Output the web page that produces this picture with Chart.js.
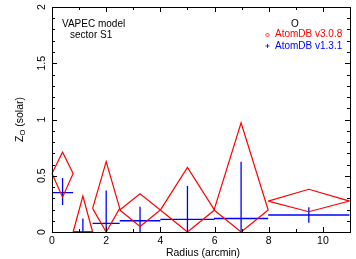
<!DOCTYPE html>
<html><head><meta charset="utf-8">
<script src="https://cdn.jsdelivr.net/npm/chart.js@4/dist/chart.umd.min.js"></script>
<style>html,body{margin:0;padding:0;background:#fff}canvas{display:block}</style>
</head><body>
<canvas id="c" width="356" height="259"></canvas>
<script>
// Bins (arcmin)
const binCenters = [0.39, 1.14, 2.0, 3.25, 5.0, 6.98, 9.48];
const binHalfWidths = [0.39, 0.36, 0.5, 0.75, 1.0, 1.0, 1.5];
// AtomDB v3.0.8 (red diamonds)
const redY  = [0.52, 0.0, 0.21, 0.195, 0.195, 0.195, 0.275];
const redHi = [0.71, 0.32, 0.625, 0.34, 0.575, 0.97, 0.38];
const redLo = [0.31, 0.0, 0.0, 0.05, 0.0, 0.0, 0.18];
// AtomDB v1.3.1 (blue crosses)
const blueY  = [0.35, 0.0, 0.077, 0.10, 0.113, 0.12, 0.151];
const blueHi = [0.48, 0.12, 0.37, 0.225, 0.41, 0.625, 0.22];
const blueLo = [0.24, 0.0, 0.0, 0.0, 0.0, 0.0, 0.083];
// Ticks
const xMajorTicks = [0, 2, 4, 6, 8, 10];
const xMinorTicks = [1, 3, 5, 7, 9, 11];
const yMajorTicks = [0, 0.5, 1, 1.5, 2];
const yTickLabels = ['0', '0.5', '1', '1.5', '2'];
const yMinorTicks = [0.1,0.2,0.3,0.4,0.6,0.7,0.8,0.9,1.1,1.2,1.3,1.4,1.6,1.7,1.8,1.9];

const FONT = '"Liberation Sans", Arial, sans-serif';

function diamond(i){
  const x = binCenters[i], w = binHalfWidths[i];
  return [{x:x-w,y:redY[i]},{x:x,y:redHi[i]},{x:x+w,y:redY[i]},{x:x,y:redLo[i]},{x:x-w,y:redY[i]}];
}
const datasets = binCenters.map((_, i) => ({
  type:'line', data: diamond(i), borderColor:'#ff0000', borderWidth:1.2,
  pointRadius:0, fill:false, tension:0, clip:6
}));
const crossData = [];
binCenters.forEach((x, i) => {
  const w = binHalfWidths[i];
  crossData.push({x:x-w,y:blueY[i]},{x:x+w,y:blueY[i]},{x:x,y:null});
  crossData.push({x:x,y:blueLo[i]},{x:x,y:blueHi[i]},{x:x,y:null});
});
datasets.push({type:'line', data: crossData, borderColor:'#0000ff', borderWidth:1.3,
  pointRadius:0, fill:false, spanGaps:false, clip:6});

const axesPlugin = {
  id:'axes',
  afterDraw(chart){
    const ctx = chart.ctx, a = chart.chartArea, xs = chart.scales.x, ys = chart.scales.y;
    ctx.save();
    ctx.strokeStyle = '#000'; ctx.lineWidth = 1;
    ctx.strokeRect(Math.round(a.left)+0.5, Math.round(a.top)+0.5, Math.round(a.right-a.left), Math.round(a.bottom-a.top));
    ctx.beginPath();
    const tx = (v, len) => { const p = Math.round(xs.getPixelForValue(v))+0.5;
      ctx.moveTo(p, a.bottom); ctx.lineTo(p, a.bottom-len);
      ctx.moveTo(p, a.top); ctx.lineTo(p, a.top+len); };
    const ty = (v, len) => { const p = Math.round(ys.getPixelForValue(v))+0.5;
      ctx.moveTo(a.left, p); ctx.lineTo(a.left+len, p);
      ctx.moveTo(a.right, p); ctx.lineTo(a.right-len, p); };
    xMajorTicks.forEach(v => tx(v, 5));
    xMinorTicks.forEach(v => tx(v, 3));
    yMajorTicks.forEach(v => ty(v, 5));
    yMinorTicks.forEach(v => ty(v, 3));
    ctx.stroke();
    ctx.fillStyle = '#000';
    ctx.font = '10.5px ' + FONT;
    ctx.textAlign = 'center'; ctx.textBaseline = 'middle';
    xMajorTicks.forEach(v => ctx.fillText(String(v), xs.getPixelForValue(v), 241));
    yMajorTicks.forEach((v, i) => {
      ctx.save(); ctx.translate(42, ys.getPixelForValue(v)); ctx.rotate(-Math.PI/2);
      ctx.fillText(yTickLabels[i], 0, 0); ctx.restore();
    });
    ctx.fillText('Radius (arcmin)', (a.left+a.right)/2 + 2, 253);
    // y title
    ctx.save(); ctx.translate(20, (a.top+a.bottom)/2); ctx.rotate(-Math.PI/2);
    ctx.font = '10.5px ' + FONT; ctx.textAlign = 'left';
    const t1 = 'Z', t3 = ' (solar)';
    ctx.font = '10.5px ' + FONT; const w1 = ctx.measureText(t1).width;
    ctx.font = '7.5px ' + FONT; const w2 = ctx.measureText('O').width;
    ctx.font = '10.5px ' + FONT; const w3 = ctx.measureText(t3).width;
    let sx = -(w1+w2+w3)/2;
    ctx.fillText(t1, sx, 0); sx += w1;
    ctx.font = '7.5px ' + FONT; ctx.fillText('O', sx, 3); sx += w2;
    ctx.font = '10.5px ' + FONT; ctx.fillText(t3, sx, 0);
    ctx.restore();
    // annotations
    ctx.font = '10px ' + FONT; ctx.textAlign = 'left';
    ctx.fillText('VAPEC model', 62, 24.5);
    ctx.fillText('sector S1', 70, 35);
    ctx.textAlign = 'center'; ctx.fillText('O', 295, 24);
    ctx.textAlign = 'left';
    ctx.fillStyle = '#ff0000'; ctx.fillText('AtomDB v3.0.8', 275, 34.5);
    ctx.fillStyle = '#0000ff'; ctx.fillText('AtomDB v1.3.1', 275, 46);
    // legend symbols
    ctx.lineWidth = 0.8;
    ctx.strokeStyle = '#ff0000'; ctx.beginPath();
    ctx.moveTo(265.5,35); ctx.lineTo(267.5,33); ctx.lineTo(269.5,35); ctx.lineTo(267.5,37); ctx.closePath(); ctx.stroke();
    ctx.strokeStyle = '#0000ff'; ctx.beginPath();
    ctx.moveTo(265.5,46); ctx.lineTo(269.5,46); ctx.moveTo(267.5,44); ctx.lineTo(267.5,48); ctx.stroke();
    ctx.restore();
  }
};

new Chart(document.getElementById('c'), {
  type:'line',
  data:{ datasets },
  options:{
    responsive:false, animation:false, devicePixelRatio:1,
    layout:{ padding:{ left:52, right:6, top:7, bottom:27 } },
    plugins:{ legend:{display:false}, tooltip:{enabled:false} },
    scales:{
      x:{ type:'linear', min:0, max:11, display:false },
      y:{ type:'linear', min:0, max:2, display:false }
    }
  },
  plugins:[axesPlugin]
});
</script>
</body></html>
